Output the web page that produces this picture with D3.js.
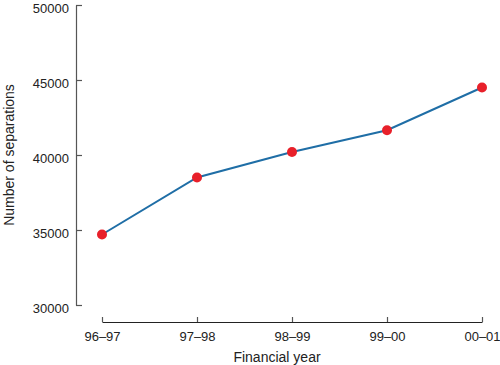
<!DOCTYPE html>
<html>
<head>
<meta charset="utf-8">
<script src="https://cdn.jsdelivr.net/npm/d3@7"></script>
<style>
  body { margin: 0; background: #fff; }
  svg { display: block; font-family: "Liberation Sans", Arial, sans-serif; }
</style>
</head>
<body>
<svg id="chart" width="500" height="365"></svg>
<script>
const years = ["96–97", "97–98", "98–99", "99–00", "00–01"];
const separations = [34700, 38500, 40200, 41650, 44500];
const yTicks = [30000, 35000, 40000, 45000, 50000];

const svg = d3.select("#chart");
const x = d3.scalePoint().domain(years).range([102, 482]);
const y = d3.scaleLinear().domain([30000, 50000]).range([305, 5]);

// Y axis
const yAxis = svg.append("g")
  .attr("transform", "translate(76,0)")
  .call(d3.axisLeft(y).tickValues(yTicks).tickFormat(d3.format("d"))
    .tickSizeInner(-6).tickSizeOuter(0).tickPadding(7));
yAxis.select(".domain").attr("stroke", "#555").attr("stroke-width", 1.2);
yAxis.selectAll(".tick line").attr("stroke", "#555").attr("stroke-width", 1.2);
yAxis.selectAll(".tick text").attr("fill", "#222").attr("dy", "0.55em").style("font-size", "13px");

// X axis
const xAxis = svg.append("g")
  .attr("transform", "translate(0,322)")
  .call(d3.axisBottom(x).tickSizeInner(-5).tickSizeOuter(0).tickPadding(10));
xAxis.select(".domain").attr("stroke", "#222").attr("stroke-width", 1.2);
xAxis.selectAll(".tick line").attr("stroke", "#555").attr("stroke-width", 1.2);
xAxis.selectAll(".tick text").attr("fill", "#222").style("font-size", "13px");

// Axis titles
svg.append("text")
  .attr("x", 277).attr("y", 362)
  .attr("text-anchor", "middle")
  .style("font-size", "14px").attr("fill", "#222")
  .text("Financial year");
svg.append("text")
  .attr("transform", "translate(14,155) rotate(-90)")
  .attr("text-anchor", "middle")
  .style("font-size", "14px").attr("fill", "#222")
  .text("Number of separations");

// Line
const data = years.map((d, i) => ({ year: d, value: separations[i] }));
svg.append("path")
  .datum(data)
  .attr("fill", "none")
  .attr("stroke", "#1f6ea6")
  .attr("stroke-width", 2)
  .attr("d", d3.line().x(d => x(d.year)).y(d => y(d.value)));

// Points
svg.selectAll("circle.pt")
  .data(data)
  .enter().append("circle")
  .attr("class", "pt")
  .attr("cx", d => x(d.year))
  .attr("cy", d => y(d.value))
  .attr("r", 5)
  .attr("fill", "#e8202a");
</script>
</body>
</html>
